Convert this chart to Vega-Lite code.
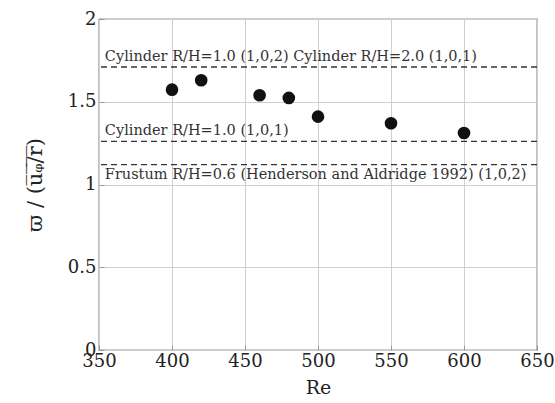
{
  "$schema": "https://vega.github.io/schema/vega-lite/v6.json",
  "autosize": {"type": "none"},
  "width": 438,
  "height": 331,
  "padding": {"left": 99, "top": 19, "right": 18, "bottom": 53},
  "background": "white",
  "config": {
    "view": {"stroke": "#333", "strokeWidth": 1.2},
    "font": "DejaVu Serif",
    "axis": {
      "labelFont": "DejaVu Serif",
      "titleFont": "DejaVu Serif",
      "labelFontSize": 18,
      "titleFontSize": 19,
      "labelColor": "#222",
      "titleColor": "#222",
      "titleFontWeight": "normal",
      "gridColor": "#cfcfcf",
      "gridOpacity": 1,
      "gridWidth": 1,
      "domain": false,
      "tickColor": "#999",
      "tickSize": -5,
      "labelPadding": 8,
      "labelFlush": false
    }
  },
  "layer": [
    {
      "data": {"values": [
        {"Re": 400, "w": 1.573},
        {"Re": 420, "w": 1.63},
        {"Re": 460, "w": 1.539},
        {"Re": 480, "w": 1.523},
        {"Re": 500, "w": 1.41},
        {"Re": 550, "w": 1.37},
        {"Re": 600, "w": 1.311}
      ]},
      "mark": {"type": "circle", "size": 160, "color": "#111", "opacity": 1},
      "encoding": {
        "x": {"field": "Re", "type": "quantitative", "scale": {"domain": [350, 650], "nice": false},
              "axis": {"values": [350, 400, 450, 500, 550, 600, 650], "format": "d", "title": "Re", "titleFont": "DejaVu Serif", "titlePadding": 8, "labelPadding": 7, "labelOverlap": false}},
        "y": {"field": "w", "type": "quantitative", "scale": {"domain": [0, 2], "nice": false},
              "axis": {"values": [0, 0.5, 1, 1.5, 2], "format": "~g", "title": "ϖ / (u̅ᵩ̅/̅r̅)", "titleFontSize": 21, "titlePadding": 22, "labelOverlap": false}}
      }
    },
    {
      "data": {"values": [
        {"level": 1.71},
        {"level": 1.261},
        {"level": 1.12}
      ]},
      "mark": {"type": "rule", "color": "#333", "strokeWidth": 1.3, "strokeDash": [6, 4]},
      "encoding": {
        "y": {"field": "level", "type": "quantitative"}
      }
    },
    {
      "data": {"values": [
        {"x": 354, "y": 1.744, "label": "Cylinder R/H=1.0 (1,0,2) Cylinder R/H=2.0 (1,0,1)"},
        {"x": 354, "y": 1.297, "label": "Cylinder R/H=1.0 (1,0,1)"},
        {"x": 354, "y": 1.036, "label": "Frustum R/H=0.6 (Henderson and Aldridge 1992) (1,0,2)"}
      ]},
      "mark": {"type": "text", "align": "left", "baseline": "alphabetic", "fontSize": 14.5, "font": "DejaVu Serif", "color": "#333"},
      "encoding": {
        "x": {"field": "x", "type": "quantitative"},
        "y": {"field": "y", "type": "quantitative"},
        "text": {"field": "label"}
      }
    }
  ]
}
